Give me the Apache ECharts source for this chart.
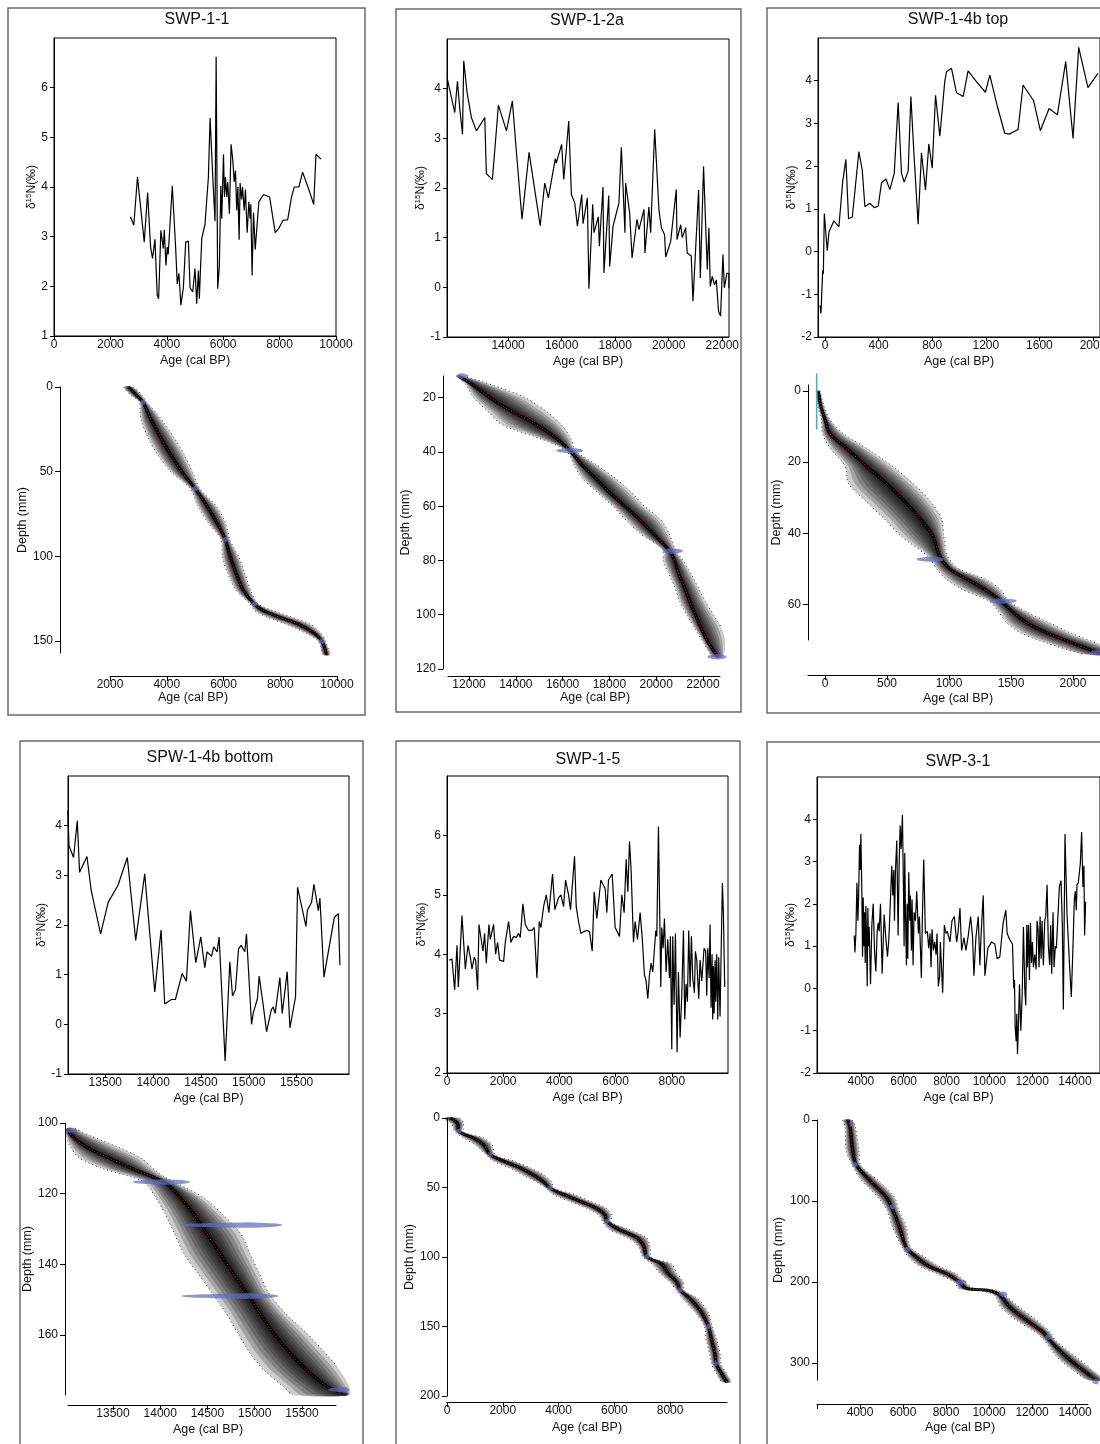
<!DOCTYPE html>
<html>
<head>
<meta charset="utf-8">
<title>δ15N records and age-depth models</title>
<script src="https://cdn.jsdelivr.net/npm/echarts@6/dist/echarts.min.js"></script>
<style>
  html, body { margin: 0; padding: 0; background: #fff; }
  #chart { width: 1100px; height: 1444px; }
</style>
</head>
<body>
<div id="chart"></div>
<script>
// δ15N records: [age (cal BP), δ15N (‰)]
const swp11Iso = [[2713,3.40],[2830,3.23],[2960,4.20],[3200,2.89],[3320,3.89],[3425,2.79],[3495,2.56],[3580,2.95],[3660,1.82],[3710,1.75],[3790,3.13],[3875,2.76],[3910,3.14],[3970,2.42],[4015,2.79],[4050,2.64],[4135,3.45],[4195,4.02],[4240,4.05],[4315,2.76],[4370,2.05],[4430,2.26],[4500,1.62],[4590,1.99],[4670,2.89],[4765,2.91],[4825,1.97],[4920,1.89],[5000,2.36],[5060,1.65],[5120,2.32],[5155,1.75],[5190,2.29],[5240,2.96],[5300,2.99],[5355,3.25],[5415,3.26],[5475,4.20],[5535,5.39],[5630,4.20],[5710,3.31],[5750,6.62],[5805,1.95],[5865,2.42],[5915,4.02],[5950,3.36],[6010,4.66],[6045,3.80],[6080,4.20],[6125,3.80],[6160,4.10],[6220,3.46],[6280,4.86],[6340,4.54],[6390,4.10],[6435,4.33],[6480,3.53],[6520,4.00],[6565,2.94],[6600,4.08],[6650,3.75],[6685,4.00],[6745,3.53],[6790,3.95],[6850,3.08],[6910,3.70],[6955,3.36],[6980,3.65],[7025,2.22],[7075,3.48],[7135,2.74],[7195,3.19],[7265,3.70],[7430,3.85],[7645,3.80],[7845,3.08],[7965,3.16],[8120,3.33],[8285,3.34],[8425,3.80],[8520,4.00],[8685,4.00],[8815,4.30],[9030,3.96],[9210,3.65],[9290,4.66],[9470,4.56]];

const swp12aIso = [[11730,4.20],[11800,4.19],[12010,3.52],[12110,4.15],[12200,3.58],[12300,3.08],[12345,4.56],[12470,3.92],[12630,3.42],[12820,3.15],[13130,3.42],[13190,2.29],[13415,2.17],[13640,3.67],[13940,3.15],[14160,3.75],[14310,2.74],[14520,1.37],[14785,2.72],[15030,1.84],[15200,1.24],[15370,2.10],[15505,1.80],[15765,2.59],[15800,2.50],[16000,2.88],[16080,2.17],[16265,3.35],[16365,1.87],[16490,1.70],[16590,1.23],[16750,1.87],[16800,1.28],[16960,1.80],[17020,-0.03],[17160,1.67],[17210,1.10],[17370,1.42],[17410,0.83],[17545,2.02],[17580,0.29],[17760,1.85],[17795,0.42],[17920,1.23],[18140,1.70],[18230,2.82],[18365,1.10],[18390,2.10],[18540,1.50],[18630,0.59],[18815,1.37],[18890,1.16],[19075,1.57],[19110,0.69],[19260,1.62],[19325,1.10],[19475,3.18],[19635,1.55],[19725,1.20],[19845,1.06],[19885,0.61],[20070,0.92],[20280,1.97],[20310,0.96],[20445,1.26],[20505,1.00],[20630,1.20],[20690,0.69],[20840,0.63],[20905,-0.28],[21115,1.96],[21180,0.19],[21300,2.44],[21375,1.30],[21440,0.36],[21500,1.20],[21550,0.02],[21625,0.22],[21710,0.05],[21775,0.15],[21860,-0.48],[21935,-0.58],[22025,0.66],[22075,-0.01],[22170,0.28],[22245,0.28],[22250,-0.02]];

const swp14bTopIso = [[-37,-1.26],[-30,-1.45],[-17,-0.44],[-12,-0.52],[-5,0.89],[17,0.02],[30,0.46],[67,0.72],[104,0.58],[132,1.63],[156,2.16],[176,0.77],[204,0.81],[253,2.34],[278,1.91],[298,1.05],[335,1.13],[368,1.03],[397,1.06],[422,1.61],[455,1.70],[484,1.45],[517,1.83],[546,3.49],[571,1.83],[591,1.63],[621,1.89],[641,3.63],[663,2.34],[695,0.64],[720,2.31],[750,1.44],[775,2.52],[800,1.95],[825,3.66],[857,2.70],[894,3.99],[907,4.21],[944,4.29],[981,3.72],[1031,3.63],[1068,4.23],[1130,3.98],[1197,3.73],[1230,4.13],[1287,3.39],[1341,2.77],[1374,2.75],[1441,2.86],[1478,3.90],[1557,3.53],[1607,2.83],[1672,3.35],[1734,3.20],[1796,4.45],[1851,2.65],[1893,4.78],[1962,3.84],[2037,4.17]];

const spw14bBotIso = [[13109,4.30],[13120,3.60],[13168,3.36],[13207,4.10],[13231,3.06],[13308,3.38],[13353,2.69],[13451,1.82],[13531,2.46],[13633,2.80],[13730,3.36],[13818,1.69],[13912,3.03],[14017,0.65],[14083,1.90],[14121,0.41],[14191,0.50],[14233,0.50],[14303,1.02],[14348,0.87],[14390,2.29],[14446,1.24],[14498,1.76],[14540,1.14],[14564,1.46],[14610,1.37],[14634,1.56],[14669,1.46],[14690,1.76],[14753,-0.74],[14802,1.26],[14830,0.57],[14861,0.70],[14893,1.52],[14920,1.59],[14959,1.46],[14976,1.82],[15029,0.00],[15046,0.22],[15091,0.52],[15109,0.97],[15151,0.39],[15186,-0.15],[15235,0.29],[15255,0.35],[15276,0.22],[15325,0.94],[15350,0.22],[15402,1.06],[15430,-0.07],[15489,0.55],[15510,2.76],[15598,1.97],[15612,2.29],[15657,2.46],[15681,2.82],[15727,2.29],[15744,2.54],[15786,0.95],[15894,2.15],[15936,2.23],[15953,1.19]];

const swp15Iso = [[83,3.90],[178,3.92],[273,3.40],[356,4.15],[403,3.45],[474,3.45],[533,4.65],[652,3.75],[747,4.15],[830,3.95],[889,3.75],[972,3.95],[1019,3.90],[1090,3.40],[1138,4.50],[1209,4.50],[1280,4.05],[1339,4.35],[1398,3.85],[1493,4.50],[1541,4.25],[1659,4.50],[1730,4.00],[1801,4.20],[1872,3.90],[2015,3.88],[2074,4.20],[2192,4.55],[2275,4.20],[2370,4.30],[2465,4.28],[2548,4.35],[2607,4.28],[2702,4.85],[2785,4.50],[2903,4.40],[3022,4.40],[3105,4.45],[3200,3.60],[3282,4.55],[3342,4.45],[3437,4.80],[3531,5.00],[3626,4.70],[3756,5.35],[3839,4.75],[3970,4.95],[4053,5.00],[4148,4.80],[4219,5.25],[4325,5.00],[4396,4.75],[4539,5.65],[4598,4.80],[4681,4.55],[4764,4.35],[4859,4.38],[4977,4.40],[5072,4.38],[5167,4.05],[5238,5.05],[5333,4.60],[5475,5.25],[5629,5.10],[5688,4.70],[5747,5.25],[5878,5.35],[5984,4.45],[6138,4.30],[6221,5.00],[6304,4.70],[6375,5.60],[6435,5.05],[6494,5.90],[6553,5.40],[6636,4.20],[6695,4.55],[6778,4.25],[6873,4.70],[6944,4.30],[7027,3.65],[7086,3.55],[7146,3.25],[7205,3.65],[7264,3.85],[7323,3.70],[7430,4.40],[7466,4.30],[7525,6.15],[7608,3.45],[7643,4.45],[7691,4.10],[7738,4.60],[7797,3.70],[7857,4.25],[7916,3.60],[7951,4.30],[7999,2.40],[8034,4.30],[8082,3.15],[8129,4.35],[8188,2.35],[8236,3.70],[8295,2.60],[8354,3.30],[8414,4.40],[8461,2.90],[8508,3.50],[8556,3.20],[8603,4.40],[8651,3.45],[8698,4.30],[8745,3.60],[8805,3.35],[8840,4.05],[8888,3.90],[8959,3.25],[9006,3.90],[9065,3.55],[9148,4.10],[9207,4.05],[9243,3.30],[9279,4.10],[9326,3.60],[9362,4.50],[9397,3.10],[9433,4.00],[9456,2.90],[9480,3.80],[9504,3.00],[9539,3.90],[9563,3.20],[9599,4.00],[9634,2.90],[9670,3.95],[9717,2.95],[9753,3.95],[9800,5.20],[9836,4.70],[9883,3.45]];

const swp31Iso = [[3689,1.25],[3720,0.85],[3767,1.3],[3814,2.5],[3860,1.6],[3891,2.1],[3938,3.4],[3969,2.8],[4000,3.65],[4047,2.2],[4078,0.75],[4109,2.15],[4140,1.0],[4171,1.8],[4202,0.6],[4233,1.95],[4264,1.2],[4295,0.05],[4326,1.9],[4357,1.0],[4388,1.45],[4450,0.1],[4512,1.5],[4575,2.0],[4637,0.9],[4699,0.4],[4761,1.35],[4808,1.55],[4854,1.35],[4916,2.0],[4994,0.35],[5087,1.75],[5165,1.2],[5242,0.75],[5305,1.15],[5444,2.9],[5491,2.2],[5537,2.8],[5569,1.6],[5615,2.8],[5677,3.5],[5739,1.25],[5786,2.9],[5833,3.85],[5879,3.3],[5941,4.1],[5988,2.4],[6019,1.0],[6050,3.2],[6081,1.8],[6128,0.55],[6159,2.0],[6190,0.7],[6236,2.75],[6283,1.6],[6314,2.2],[6361,0.9],[6392,2.1],[6438,0.55],[6485,1.8],[6547,1.6],[6609,2.3],[6687,1.3],[6733,1.7],[6826,0.25],[6873,1.7],[6935,3.05],[7013,1.3],[7106,1.35],[7168,0.95],[7230,1.3],[7277,0.5],[7323,1.4],[7386,0.9],[7448,1.1],[7510,0.8],[7556,1.3],[7618,0.05],[7681,0.3],[7712,1.1],[7820,-0.1],[7898,1.5],[7976,1.3],[8038,1.35],[8162,1.1],[8255,1.6],[8364,1.7],[8473,1.1],[8535,1.3],[8628,1.9],[8706,0.9],[8814,1.2],[8907,0.9],[9016,1.25],[9125,1.7],[9218,1.2],[9280,0.3],[9373,1.2],[9482,1.7],[9560,0.55],[9622,1.35],[9715,2.2],[9793,0.3],[9932,0.95],[10103,1.1],[10258,1.05],[10367,0.7],[10491,0.75],[10646,1.55],[10771,1.85],[10833,1.3],[10957,1.15],[11081,1.05],[11144,0.0],[11175,0.2],[11206,-0.9],[11253,-1.25],[11284,-0.6],[11315,-1.55],[11361,-0.85],[11408,0.1],[11470,-1.0],[11532,-0.2],[11594,1.45],[11656,0.0],[11703,-0.4],[11750,1.5],[11781,0.5],[11827,1.5],[11874,0.2],[11921,1.55],[11967,0.6],[12013,1.1],[12060,0.5],[12122,0.8],[12184,0.45],[12231,1.6],[12278,1.4],[12324,0.5],[12371,1.7],[12417,0.7],[12464,1.6],[12526,0.55],[12588,1.6],[12635,1.7],[12697,2.45],[12759,1.0],[12821,0.55],[12868,1.5],[12914,0.35],[12976,1.8],[13023,0.5],[13085,1.0],[13132,0.95],[13271,2.4],[13349,2.55],[13411,1.5],[13458,-0.5],[13535,3.65],[13629,1.75],[13753,0.5],[13830,-0.2],[13908,1.0],[13970,2.1],[14017,2.3],[14063,1.85],[14094,2.45],[14156,2.5],[14250,2.95],[14312,3.7],[14374,2.4],[14420,2.9],[14451,1.25],[14498,2.05]];

// age-depth models: [depth (mm), mean age, min age, max age]
const swp11Model = [[0,2650,2470,2820],[5,2940,2740,3140],[9,3170,3040,3300],[15,3330,3060,3620],[20,3470,3100,3860],[30,3790,3340,4260],[40,4140,3680,4620],[50,4530,4140,4900],[60,5000,4830,5170],[70,5410,5080,5730],[80,5760,5450,6070],[90,6060,5910,6220],[100,6235,5960,6530],[110,6445,6150,6750],[120,6700,6440,6960],[128,7080,6940,7220],[132,7410,7100,7750],[136,8000,7550,8450],[140,8645,8200,9060],[145,9170,8860,9420],[150,9470,9340,9590],[158,9630,9500,9760]];
const swp12aModel = [[12,11545,11450,11750],[15,12110,11850,12900],[20,12900,12200,14400],[25,13820,12800,15300],[30,14890,13420,15950],[35,15740,15000,16350],[39.5,16310,16150,16550],[45,16850,16500,17500],[50,17450,16870,18300],[55,18015,17500,18950],[60,18655,18150,19500],[65,19295,18700,20200],[70,19860,19300,20550],[76.5,20575,20300,20850],[80,20790,20300,21150],[85,20970,20550,21500],[90,21215,20800,21800],[95,21430,21000,22100],[100,21680,21300,22450],[105,21925,21650,22800],[110,22210,22000,22950],[115.5,22640,22400,22850]];
const swp14bTopModel = [[0,-54,-70,-40],[4,-35,-60,-10],[8,0,-30,40],[12,40,-20,150],[16,170,40,330],[21,330,160,540],[26,497,190,710],[31,640,330,850],[36,770,480,940],[41,873,620,960],[46.5,926,830,990],[50,1005,900,1080],[53,1150,980,1300],[56,1300,1120,1420],[59,1420,1320,1480],[62,1510,1400,1620],[65,1620,1460,1800],[68,1790,1580,1980],[71,2010,1800,2200],[74,2230,2080,2400]];
const spw14bBotModel = [[101.6,13022,13000,13100],[103.5,13058,13000,13250],[106.8,13217,13050,13550],[110,13465,13150,13800],[113,13712,13400,13930],[115.3,13925,13700,14050],[117.1,14066,13850,14180],[121,14208,13950,14450],[125.6,14350,14050,14650],[131.3,14491,14150,14850],[137,14633,14250,14950],[142.6,14774,14400,15050],[148.2,14916,14550,15150],[154,15058,14700,15330],[159.5,15199,14820,15550],[165.2,15376,14950,15750],[170,15553,15100,15900],[174.6,15766,15300,16000],[177,15978,15400,16000]];
const swp15Model = [[0,120,-150,450],[4,380,150,600],[9.6,420,280,580],[14.4,955,600,1300],[19.2,1313,1000,1620],[26.4,1552,1400,1720],[31,2030,1650,2400],[36,2630,2250,3000],[41,3100,2720,3480],[46,3460,3200,3750],[50.5,3700,3550,3850],[55,4180,3800,4560],[60,4780,4400,5160],[65,5370,5000,5720],[70,5670,5450,5900],[74.5,5730,5580,5880],[80,6150,5800,6500],[86,6800,6450,7150],[92,7050,6850,7280],[99.8,7164,7020,7310],[105,7700,7350,8050],[112,7940,7650,8250],[118,8240,7990,8480],[123.8,8360,8220,8500],[130,8720,8450,8990],[140,9130,8900,9370],[150,9373,9230,9510],[160,9490,9300,9680],[170,9610,9420,9800],[177,9650,9490,9820],[184,9850,9660,10040],[190,10030,9850,10200]];
const swp31Model = [[0,3430,3200,3650],[8,3534,3300,3780],[37,3658,3350,3950],[55,3814,3620,4010],[74,4435,4050,4820],[95,5211,4820,5600],[111,5522,5250,5800],[132,5833,5500,6150],[157,6143,5950,6350],[169,6609,6250,7000],[181,7230,6800,7700],[189.5,8007,7550,8450],[200,8628,8380,8880],[208,8939,8600,9300],[210,9871,9350,10350],[216,10492,10230,10730],[231,10958,10550,11400],[247,11734,11250,12200],[262,12511,12150,12850],[272,12821,12570,13080],[292.5,13598,13150,14050],[309,14374,13900,14850],[321,14995,14550,15350]];

// calibrated dates: [depth (mm), lower age, modal age, upper age]
const swp11Dates = [[9,3080,3170,3260],[60,4880,5000,5120],[90,5980,6060,6150],[128,6980,7080,7200],[150,9360,9470,9570]];
const swp12aDates = [[12,11470,11650,11970],[39.5,15740,16350,16880],[76.5,20290,20650,21140],[115.5,22200,22650,23000]];
const swp14bTopDates = [[47.3,740,880,955],[59,1330,1420,1545],[73.6,2140,2200,2260]];
const spw14bBotDates = [[102,13000,13040,13120],[116.7,13712,14050,14314],[128.9,14210,14950,15290],[149,14230,14960,15250],[175.5,15780,15950,16000]];
const swp15Dates = [[9.6,340,420,500],[26.4,1480,1552,1630],[50.5,3620,3700,3790],[74.5,5650,5730,5810],[99.8,7080,7164,7250],[123.8,8280,8360,8440],[150,9300,9373,9450],[176.7,9560,9620,9700]];
const swp31Dates = [[5,3500,3600,3700],[55,3650,3780,3900],[107,5380,5520,5650],[160,6050,6200,6350],[200,8450,8700,8950],[215,10450,10650,10850],[268,12600,12750,12900],[323,14800,15000,15100]];
// surface sample of SWP-1-4b top: [age, depth]
const swp14bTopSurface = [[-67,-5],[-67,10.8]];

// tick values
const swp11IsoAgeTicks = [0,2000,4000,6000,8000,10000];
const swp11IsoTicks = [1,2,3,4,5,6];
const swp11ModelAgeTicks = [2000,4000,6000,8000,10000];
const swp11DepthTicks = [0,50,100,150];
const swp12aIsoAgeTicks = [14000,16000,18000,20000,22000];
const swp12aIsoTicks = [-1,0,1,2,3,4];
const swp12aModelAgeTicks = [12000,14000,16000,18000,20000,22000];
const swp12aDepthTicks = [20,40,60,80,100,120];
const swp14bTopIsoAgeTicks = [0,400,800,1200,1600,2000];
const swp14bTopIsoTicks = [-2,-1,0,1,2,3,4];
const swp14bTopModelAgeTicks = [0,500,1000,1500,2000];
const swp14bTopDepthTicks = [0,20,40,60];
const spw14bBotIsoAgeTicks = [13500,14000,14500,15000,15500];
const spw14bBotIsoTicks = [-1,0,1,2,3,4];
const spw14bBotModelAgeTicks = [13500,14000,14500,15000,15500];
const spw14bBotDepthTicks = [100,120,140,160];
const swp15IsoAgeTicks = [0,2000,4000,6000,8000];
const swp15IsoTicks = [2,3,4,5,6];
const swp15ModelAgeTicks = [0,2000,4000,6000,8000];
const swp15DepthTicks = [0,50,100,150,200];
const swp31IsoAgeTicks = [4000,6000,8000,10000,12000,14000];
const swp31IsoTicks = [-2,-1,0,1,2,3,4];
const swp31ModelAgeTicks = [2000,4000,6000,8000,10000,12000,14000];
const swp31ModelAgeLabels = [4000,6000,8000,10000,12000,14000];
const swp31DepthTicks = [0,100,200,300];

const FONT = '"Liberation Sans", Arial, Helvetica, sans-serif';
const bandLevels = [1, 0.84, 0.7, 0.57, 0.45, 0.35, 0.26, 0.18, 0.11, 0.05];

const panels = [
  { title: 'SWP-1-1', titleXY: [197, 20], frame: [8, 8, 357, 707],
    iso: swp11Iso, isoGrid: [54, 38, 282, 298], isoX: [0, 10000], isoY: [1, 7],
    isoXT: swp11IsoAgeTicks, isoYT: swp11IsoTicks, isoGap: 15,
    model: swp11Model, dates: swp11Dates, modGrid: [110, 387, 227, 266],
    modX: [2000, 10000], modY: [0, 157], modXT: swp11ModelAgeTicks, modYT: swp11DepthTicks,
    xOff: 23, yOff: 50, depGap: 28, ageXY: [193, 698] },
  { title: 'SWP-1-2a', titleXY: [587, 21], frame: [396, 9, 345, 703],
    iso: swp12aIso, isoGrid: [447, 39, 282, 298], isoX: [11720, 22250], isoY: [-1, 5],
    isoXT: swp12aIsoAgeTicks, isoYT: swp12aIsoTicks, isoGap: 19,
    model: swp12aModel, dates: swp12aDates, modGrid: [448, 376, 272, 293],
    modX: [11100, 22730], modY: [12, 120], modXT: swp12aModelAgeTicks, modYT: swp12aDepthTicks,
    xOff: 7, yOff: 5, depGap: 24, ageXY: [595, 698] },
  { title: 'SWP-1-4b top', titleXY: [958, 20], frame: [767, 8, 400, 705],
    iso: swp14bTopIso, isoGrid: [818, 38, 282, 299], isoX: [-52, 2052], isoY: [-2, 5],
    isoXT: swp14bTopIsoAgeTicks, isoYT: swp14bTopIsoTicks, isoGap: 19,
    model: swp14bTopModel, dates: swp14bTopDates, modGrid: [808, 385, 292, 255],
    modX: [-137, 2218], modY: [-1.7, 70], modXT: swp14bTopModelAgeTicks, modYT: swp14bTopDepthTicks,
    xOff: 35, yOff: 0, depGap: 25, ageXY: [958, 699], surface: swp14bTopSurface },
  { title: 'SPW-1-4b bottom', titleXY: [210, 758], frame: [20, 741, 343, 800],
    iso: spw14bBotIso, isoGrid: [68, 776, 281, 298], isoX: [13110, 16048], isoY: [-1, 5],
    isoXT: spw14bBotIsoAgeTicks, isoYT: spw14bBotIsoTicks, isoGap: 14,
    model: spw14bBotModel, dates: spw14bBotDates, modGrid: [68, 1123, 268, 272],
    modX: [13024, 15860], modY: [100, 177], modXT: spw14bBotModelAgeTicks, modYT: spw14bBotDepthTicks,
    xOff: 10, yOff: 3, depGap: 31, ageXY: [208, 1430] },
  { title: 'SWP-1-5', titleXY: [588, 760], frame: [396, 741, 344, 800],
    iso: swp15Iso, isoGrid: [447, 776, 281, 297], isoX: [0, 10000], isoY: [2, 7],
    isoXT: swp15IsoAgeTicks, isoYT: swp15IsoTicks, isoGap: 18,
    model: swp15Model, dates: swp15Dates, modGrid: [447, 1118, 280, 278],
    modX: [0, 10040], modY: [0, 200], modXT: swp15ModelAgeTicks, modYT: swp15DepthTicks,
    xOff: 6, yOff: 0, depGap: 30, ageXY: [587, 1428] },
  { title: 'SWP-3-1', titleXY: [958, 762], frame: [767, 742, 400, 800],
    iso: swp31Iso, isoGrid: [817, 777, 283, 296], isoX: [1950, 15170], isoY: [-2, 5],
    isoXT: swp31IsoAgeTicks, isoYT: swp31IsoTicks, isoGap: 18,
    model: swp31Model, dates: swp31Dates, modGrid: [817, 1120, 271, 260],
    modX: [2000, 14600], modY: [0, 321], modXT: swp31ModelAgeTicks, modXL: swp31ModelAgeLabels,
    modYT: swp31DepthTicks, xOff: 24, yOff: 0, depGap: 32, ageXY: [960, 1428] }
];

const labelStyle = { color: '#111', fontSize: 12, fontFamily: FONT, formatter: (v) => String(v) };
const blackLine = { show: true, onZero: false, lineStyle: { color: '#000', width: 1 } };

function gridOf(g, box) {
  return { left: g[0], top: g[1], width: g[2], height: g[3], containLabel: false,
    outerBoundsMode: 'none', show: box, borderColor: '#000', borderWidth: 1, backgroundColor: 'transparent' };
}

const grids = [], xAxes = [], yAxes = [], series = [], graphics = [];

panels.forEach((p) => {
  // δ15N panel
  const gi = grids.length;
  grids.push(gridOf(p.isoGrid, true));
  xAxes.push({ type: 'value', gridIndex: gi, min: p.isoX[0], max: p.isoX[1],
    axisLine: blackLine, splitLine: { show: false },
    axisTick: { show: true, length: 4, customValues: p.isoXT, lineStyle: { color: '#000' } },
    axisLabel: Object.assign({ customValues: p.isoXT, margin: 3 }, labelStyle),
    name: 'Age (cal BP)', nameLocation: 'middle', nameGap: 18,
    nameTextStyle: { fontSize: 12.5, fontFamily: FONT, color: '#111' } });
  yAxes.push({ type: 'value', gridIndex: gi, min: p.isoY[0], max: p.isoY[1],
    axisLine: blackLine, splitLine: { show: false },
    axisTick: { show: true, length: 4, customValues: p.isoYT, lineStyle: { color: '#000' } },
    axisLabel: Object.assign({ customValues: p.isoYT, margin: 6 }, labelStyle),
    name: '{a|δ}{s|15}{a|N(‰)}', nameLocation: 'middle', nameGap: p.isoGap, nameRotate: 90,
    nameTextStyle: { rich: {
      a: { fontSize: 12, fontFamily: FONT, color: '#111', lineHeight: 14 },
      s: { fontSize: 8, fontFamily: FONT, color: '#111', lineHeight: 14, verticalAlign: 'top' } } } });
  series.push({ type: 'line', xAxisIndex: gi, yAxisIndex: gi, data: p.iso, symbol: 'none',
    silent: true, lineStyle: { color: '#000', width: 1.2 }, z: 3 });

  // age-depth model panel
  const mi = grids.length;
  grids.push(gridOf(p.modGrid, false));
  xAxes.push({ type: 'value', gridIndex: mi, min: p.modX[0], max: p.modX[1], offset: p.xOff,
    axisLine: blackLine, splitLine: { show: false },
    axisTick: { show: true, length: 5, customValues: p.modXT, lineStyle: { color: '#000' } },
    axisLabel: Object.assign({ customValues: p.modXL || p.modXT, margin: 3 }, labelStyle) });
  yAxes.push({ type: 'value', gridIndex: mi, min: p.modY[0], max: p.modY[1], inverse: true, offset: p.yOff,
    axisLine: blackLine, splitLine: { show: false },
    axisTick: { show: true, length: 5, customValues: p.modYT, lineStyle: { color: '#000' } },
    axisLabel: Object.assign({ customValues: p.modYT, margin: 7 }, labelStyle),
    name: 'Depth (mm)', nameLocation: 'middle', nameGap: p.depGap, nameRotate: 90,
    nameTextStyle: { fontSize: 12.5, fontFamily: FONT, color: '#111' } });

  const rows = p.model;
  // grey probability cloud between the min and max ages
  series.push({ type: 'custom', xAxisIndex: mi, yAxisIndex: mi, silent: true, clip: false, z: 2,
    data: bandLevels.map((f, i) => [i, i]),
    renderItem: (params, api) => {
      const f = bandLevels[params.dataIndex];
      const left = [], right = [];
      rows.forEach((r) => {
        left.push(api.coord([r[1] - f * (r[1] - r[2]), r[0]]));
        right.push(api.coord([r[1] + f * (r[3] - r[1]), r[0]]));
      });
      return { type: 'polygon', shape: { points: left.concat(right.reverse()), smooth: 0.3 },
        style: { fill: 'rgba(0,0,0,0.2)' } };
    } });
  // dotted 95% bounds
  [2, 3].forEach((k) => {
    series.push({ type: 'line', xAxisIndex: mi, yAxisIndex: mi, silent: true, clip: false, z: 4,
      data: rows.map((r) => [r[k], r[0]]), symbol: 'none', smooth: 0.3,
      lineStyle: { color: '#444', width: 1, type: [1, 3] } });
  });
  // dark core and red dotted mean
  series.push({ type: 'line', xAxisIndex: mi, yAxisIndex: mi, silent: true, clip: false, z: 5,
    data: rows.map((r) => [r[1], r[0]]), symbol: 'none', smooth: 0.3,
    lineStyle: { color: '#000', width: 3, opacity: 0.9 } });
  series.push({ type: 'line', xAxisIndex: mi, yAxisIndex: mi, silent: true, clip: false, z: 6,
    data: rows.map((r) => [r[1], r[0]]), symbol: 'none', smooth: 0.3,
    lineStyle: { color: '#e23a3a', width: 1, type: [1, 2], opacity: 0.8 } });
  // calibrated dates
  series.push({ type: 'custom', xAxisIndex: mi, yAxisIndex: mi, silent: true, clip: false, z: 7,
    data: p.dates, encode: { x: 1, y: 0 },
    renderItem: (params, api) => {
      const d = api.value(0), lo = api.value(1), mode = api.value(2), hi = api.value(3);
      const top = [], bot = [], n = 18;
      for (let k = 0; k <= n; k++) {
        const a = lo + (hi - lo) * k / n;
        const t = a <= mode ? (a - lo) / ((mode - lo) || 1) : (hi - a) / ((hi - mode) || 1);
        const w = 0.5 + 2.3 * Math.sqrt(Math.max(0, t));
        const c = api.coord([a, d]);
        top.push([c[0], c[1] - w]);
        bot.push([c[0], c[1] + w]);
      }
      return { type: 'polygon', shape: { points: top.concat(bot.reverse()) },
        style: { fill: 'rgba(96,108,196,0.72)' } };
    } });
  if (p.surface) {
    series.push({ type: 'line', xAxisIndex: mi, yAxisIndex: mi, silent: true, clip: false, z: 7,
      data: p.surface, symbol: 'none', lineStyle: { color: '#4fb3ac', width: 1.6 } });
  }

  // frame, title and model age label
  graphics.push({ type: 'rect', silent: true, z: -10,
    shape: { x: p.frame[0], y: p.frame[1], width: p.frame[2], height: p.frame[3] },
    style: { fill: 'none', stroke: '#6b6b6b', lineWidth: 1.5 } });
  graphics.push({ type: 'text', silent: true, x: p.titleXY[0], y: p.titleXY[1],
    style: { text: p.title, font: '16px ' + FONT, fill: '#111',
      align: 'center', verticalAlign: 'middle', textAlign: 'center', textVerticalAlign: 'middle' } });
  graphics.push({ type: 'text', silent: true, x: p.ageXY[0], y: p.ageXY[1],
    style: { text: 'Age (cal BP)', font: '12.5px ' + FONT, fill: '#111',
      align: 'center', verticalAlign: 'middle', textAlign: 'center', textVerticalAlign: 'middle' } });
});

const chart = echarts.init(document.getElementById('chart'), null, { renderer: 'canvas' });
chart.setOption({
  backgroundColor: '#fff',
  animation: false,
  tooltip: { show: false },
  grid: grids,
  xAxis: xAxes,
  yAxis: yAxes,
  series: series,
  graphic: { elements: graphics }
});
</script>
</body>
</html>
